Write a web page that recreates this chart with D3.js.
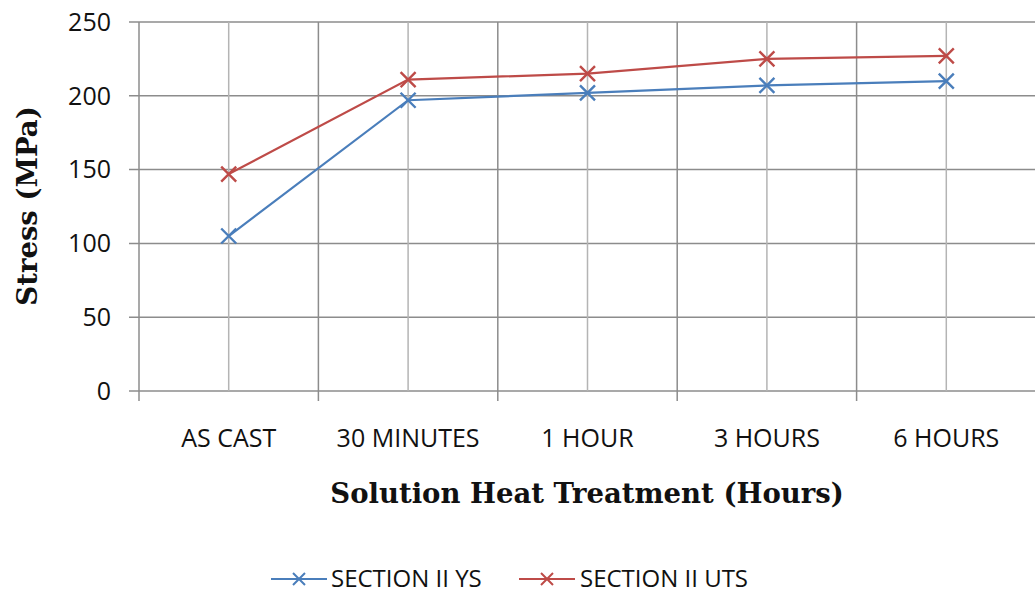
<!DOCTYPE html>
<html>
<head>
<meta charset="utf-8">
<script src="https://cdn.jsdelivr.net/npm/d3@7/dist/d3.min.js"></script>
<style>
  html, body { margin: 0; padding: 0; background: #fff; }
  svg { display: block; }
</style>
</head>
<body>
<svg id="chart" width="1035" height="597"></svg>
<script>
// Solution heat treatment durations
const categories = ["AS CAST", "30 MINUTES", "1 HOUR", "3 HOURS", "6 HOURS"];
// Yield strength and ultimate tensile strength (MPa)
const ysValues = [105, 197, 202, 207, 210];
const utsValues = [147, 211, 215, 225, 227];
const yTicks = [0, 50, 100, 150, 200, 250];
const seriesNames = ["SECTION II YS", "SECTION II UTS"];
const seriesColors = ["#4a7ebb", "#be4b48"];

const svg = d3.select("#chart");
const plotLeft = 139, plotRight = 1036, plotTop = 22, plotBottom = 391;

const x = d3.scaleBand().domain(categories).range([plotLeft, plotRight]);
const y = d3.scaleLinear().domain([0, 250]).range([plotBottom, plotTop]);

const tickFont = "'Open Sans', 'Liberation Sans', sans-serif";
const titleFont = "'DejaVu Serif', 'Liberation Serif', serif";

// horizontal gridlines with short ticks left of the axis
svg.append("g").selectAll("line").data(yTicks).join("line")
  .attr("x1", plotLeft - 10).attr("x2", plotRight)
  .attr("y1", d => y(d)).attr("y2", d => y(d))
  .attr("stroke", "#8c8c8c").attr("stroke-width", 1.5);

// lighter gridlines at category centres
svg.append("g").selectAll("line").data(categories).join("line")
  .attr("x1", d => x(d) + x.bandwidth() / 2).attr("x2", d => x(d) + x.bandwidth() / 2)
  .attr("y1", plotTop).attr("y2", plotBottom)
  .attr("stroke", "#b4b4b4").attr("stroke-width", 1.5);

// darker lines at category boundaries, extending as ticks below the axis
const bounds = categories.map(d => x(d)).concat([plotRight]);
svg.append("g").selectAll("line").data(bounds).join("line")
  .attr("x1", d => d).attr("x2", d => d)
  .attr("y1", plotTop).attr("y2", plotBottom + 10)
  .attr("stroke", "#8c8c8c").attr("stroke-width", 1.5);

// y tick labels
svg.append("g").selectAll("text").data(yTicks).join("text")
  .attr("x", 111).attr("y", d => y(d))
  .attr("dy", "0.35em")
  .attr("text-anchor", "end")
  .attr("font-family", tickFont).attr("font-size", 25).attr("fill", "#111")
  .text(d => d);

// x tick labels
svg.append("g").selectAll("text").data(categories).join("text")
  .attr("x", d => x(d) + x.bandwidth() / 2).attr("y", 438)
  .attr("dy", "0.35em")
  .attr("text-anchor", "middle")
  .attr("font-family", tickFont).attr("font-size", 25).attr("fill", "#111")
  .text(d => d);

// axis titles
svg.append("text")
  .attr("transform", "translate(37,206) rotate(-90)")
  .attr("text-anchor", "middle")
  .attr("font-family", titleFont).attr("font-weight", "bold").attr("font-size", 27.5)
  .attr("fill", "#111")
  .text("Stress (MPa)");

svg.append("text")
  .attr("x", 587).attr("y", 503)
  .attr("text-anchor", "middle")
  .attr("font-family", titleFont).attr("font-weight", "bold").attr("font-size", 27.5)
  .attr("fill", "#111")
  .text("Solution Heat Treatment (Hours)");

// series lines and X markers
const series = [ysValues, utsValues];
const line = d3.line()
  .x((d, i) => x(categories[i]) + x.bandwidth() / 2)
  .y(d => y(d));

function drawCross(g, cx, cy, r, color, w) {
  g.append("path")
    .attr("d", `M${cx - r},${cy - r}L${cx + r},${cy + r}M${cx - r},${cy + r}L${cx + r},${cy - r}`)
    .attr("stroke", color).attr("stroke-width", w).attr("fill", "none");
}

series.forEach((vals, si) => {
  const g = svg.append("g");
  g.append("path").datum(vals)
    .attr("d", line)
    .attr("fill", "none")
    .attr("stroke", seriesColors[si])
    .attr("stroke-width", 2.2);
  vals.forEach((v, i) => {
    drawCross(g, x(categories[i]) + x.bandwidth() / 2, y(v), 7.5, seriesColors[si], 2.4);
  });
});

// legend
const legendItems = [{ x0: 271, tx: 331 }, { x0: 519, tx: 580 }];
legendItems.forEach((it, i) => {
  const g = svg.append("g");
  g.append("line")
    .attr("x1", it.x0).attr("x2", it.x0 + 56)
    .attr("y1", 579).attr("y2", 579)
    .attr("stroke", seriesColors[i]).attr("stroke-width", 2);
  drawCross(g, it.x0 + 28, 579, 6, seriesColors[i], 2);
  g.append("text")
    .attr("x", it.tx).attr("y", 579)
    .attr("dy", "0.35em")
    .attr("font-family", tickFont).attr("font-size", 24).attr("fill", "#111")
    .text(seriesNames[i]);
});
</script>
</body>
</html>
